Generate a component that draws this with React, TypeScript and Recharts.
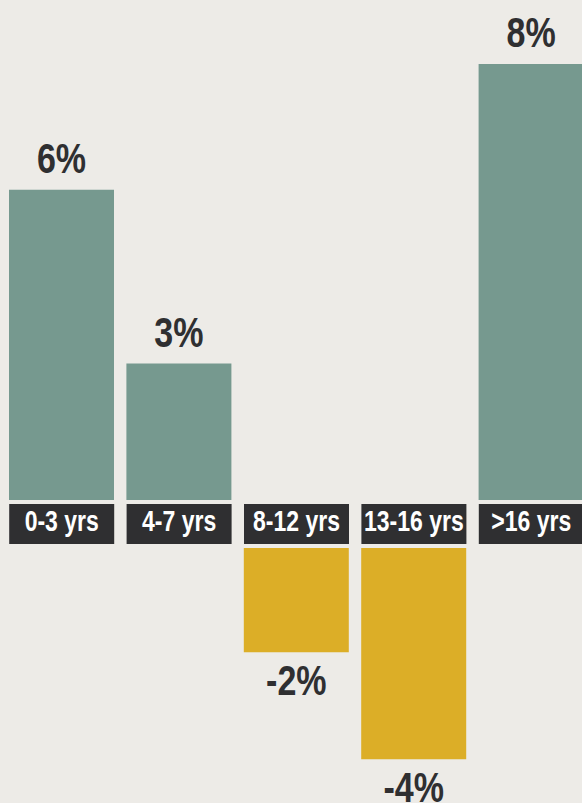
import { Bar, BarChart, LabelList, XAxis, YAxis } from "recharts";

const categories = ["0-3 yrs", "4-7 yrs", "8-12 yrs", "13-16 yrs", ">16 yrs"];
const values = [5.8, 2.55, -1.95, -3.95, 8.15];

const BG = "#edebe7";
const TEAL = "#76998f";
const GOLD = "#dcae27";
const DARK = "#2f2f31";
const FONT = "'Liberation Sans', Arial, sans-serif";
const PX_PER_PCT = 53.5;

const data = categories.map((name, i) => ({
  name,
  pos: values[i] > 0 ? values[i] : null,
  neg: values[i] < 0 ? values[i] : null,
}));

// Liberation Sans squeezed sideways to look like a narrow bold face
function NarrowText({ x, y, size, squeeze, fill, children }: any) {
  return (
    <text
      transform={`translate(${x},${y}) scale(${squeeze},1)`}
      textAnchor="middle"
      fill={fill}
      fontSize={size}
      fontWeight="bold"
      fontFamily={FONT}
    >
      {children}
    </text>
  );
}

function CategoryTick(props: any) {
  const { x, y, payload } = props;
  return (
    <g>
      <rect x={x - 52.5} y={y + 4} width={105} height={40} fill={DARK} />
      <NarrowText x={x} y={y + 31} size={29.5} squeeze={0.78} fill="#ffffff">
        {payload.value}
      </NarrowText>
    </g>
  );
}

function ValueLabel(props: any) {
  const { x, y, width, height, value } = props;
  if (value == null) return null;
  const top = Math.min(y, y + height);
  const bottom = Math.max(y, y + height);
  const ty = value >= 0 ? top - 17 : bottom + 43;
  return (
    <NarrowText x={x + width / 2} y={ty} size={42} squeeze={0.81} fill={DARK}>
      {Math.round(value) + "%"}
    </NarrowText>
  );
}

export default function App() {
  return (
    <div style={{ position: "absolute", left: 0, top: 0, width: 582, height: 803, overflow: "hidden", background: BG }}>
      <BarChart width={590} height={548} data={data} margin={{ top: 500 - 9 * PX_PER_PCT, right: 0, bottom: 0, left: 3 }}>
        <YAxis hide domain={[0, 9]} />
        <XAxis
          dataKey="name"
          height={48}
          interval={0}
          tickSize={0}
          tickMargin={0}
          axisLine={false}
          tickLine={false}
          tick={<CategoryTick />}
        />
        <Bar dataKey="pos" fill={TEAL} barSize={105} isAnimationActive={false}>
          <LabelList dataKey="pos" content={<ValueLabel />} />
        </Bar>
      </BarChart>
      <BarChart width={590} height={5 * PX_PER_PCT} data={data} margin={{ top: 0, right: 0, bottom: 0, left: 3 }}>
        <YAxis hide domain={[-5, 0]} />
        <XAxis dataKey="name" hide />
        <Bar dataKey="neg" fill={GOLD} barSize={105} isAnimationActive={false}>
          <LabelList dataKey="neg" content={<ValueLabel />} />
        </Bar>
      </BarChart>
    </div>
  );
}
